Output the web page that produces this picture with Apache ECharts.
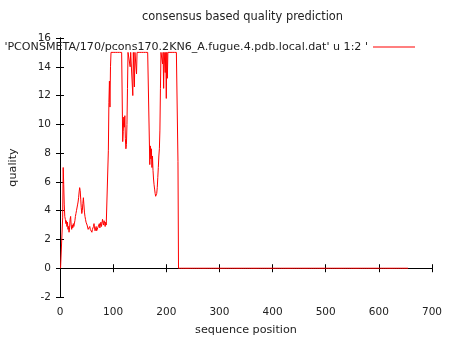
<!DOCTYPE html>
<html><head><meta charset="utf-8">
<script src="https://cdn.jsdelivr.net/npm/echarts@6/dist/echarts.min.js"></script>
<style>html,body{margin:0;padding:0;background:#fff}#c{width:455px;height:342px}</style>
</head><body><div id="c"></div><script>
const chartTitle = 'consensus based quality prediction';
const seriesName = "'PCONSMETA/170/pcons170.2KN6_A.fugue.4.pdb.local.dat' u 1:2 '";
const xName = 'sequence position';
const yName = 'quality';
const xTicks = [0, 100, 200, 300, 400, 500, 600, 700];
const yTicks = [-2, 0, 2, 4, 6, 8, 10, 12, 14, 16];
const firstPosition = 1;
// quality per sequence position (position = firstPosition + index)
const quality = [
  0,0,0,0,3.5,7.0,5.8,4.4,3.6,3.4,
  3.1,3.3,2.9,3.2,2.7,2.9,2.5,2.8,3.4,3.6,
  3.0,2.7,3.0,2.8,3.1,2.9,3.0,3.3,3.6,3.8,
  4.0,4.1,4.4,4.6,4.9,5.3,5.6,5.4,4.8,4.2,
  3.8,4.0,4.5,4.9,4.4,3.9,3.6,3.4,3.2,3.3,
  3.0,2.9,2.7,2.8,2.6,2.9,2.7,2.6,2.8,2.5,
  2.7,2.6,2.9,3.1,2.8,2.6,2.7,2.9,2.6,2.5,
  2.8,2.7,2.9,3.1,2.8,3.0,3.2,2.9,3.1,3.4,
  3.2,3.0,3.3,3.1,2.9,3.2,3.0,3.1,2.9,3.1,
  8.2,11.5,13.0,11.2,14.0,15,15,15,15,15,
  15,15,15,15,15,15,15,15,15,15,
  15,15,15,15,15,15,15,8.8,9.5,10.5,
  9.8,10.6,9.0,8.3,8.6,10.0,12.5,15,15,15,
  15,14.0,15,15,15,15,12.0,15,15,12.6,
  15,15,15,13.5,15,15,15,15,15,15,
  15,15,15,15,15,15,15,15,15,15,
  15,15,15,15,15,15,15,15,7.2,8.5,
  7.6,8.3,7.0,7.8,6.8,6.2,5.8,5.5,5.2,5.0,
  4.9,5.2,5.6,6.3,7.0,7.8,8.3,9.6,12.5,15,
  15,15,14.2,15,12.5,15,15,13.6,15,11.8,
  15,13.2,15,15,15,15,15,15,15,15,
  15,15,15,15,15,15,15,15,15,15,
  15,7.4,0,0,0,0,0,0,0,0,
  0,0,0,0,0,0,0,0,0,0,0,0,0,0,0,0,0,0,0,0,0,0,0,0,0,
  0,0,0,0,0,0,0,0,0,0,0,0,0,0,0,0,0,0,0,0,0,0,0,0,0,
  0,0,0,0,0,0,0,0,0,0,0,0,0,0,0,0,0,0,0,0,0,0,0,0,0,
  0,0,0,0,0,0,0,0,0,0,0,0,0,0,0,0,0,0,0,0,0,0,0,0,0,
  0,0,0,0,0,0,0,0,0,0,0,0,0,0,0,0,0,0,0,0,0,0,0,0,0,
  0,0,0,0,0,0,0,0,0,0,0,0,0,0,0,0,0,0,0,0,0,0,0,0,0,
  0,0,0,0,0,0,0,0,0,0,0,0,0,0,0,0,0,0,0,0,0,0,0,0,0,
  0,0,0,0,0,0,0,0,0,0,0,0,0,0,0,0,0,0,0,0,0,0,0,0,0,
  0,0,0,0,0,0,0,0,0,0,0,0,0,0,0,0,0,0,0,0,0,0,0,0,0,
  0,0,0,0,0,0,0,0,0,0,0,0,0,0,0,0,0,0,0,0,0,0,0,0,0,
  0,0,0,0,0,0,0,0,0,0,0,0,0,0,0,0,0,0,0,0,0,0,0,0,0,
  0,0,0,0,0,0,0,0,0,0,0,0,0,0,0,0,0,0,0,0,0,0,0,0,0,
  0,0,0,0,0,0,0,0,0,0,0,0,0,0,0,0,0,0,0,0,0,0,0,0,0,
  0,0,0,0,0,0,0,0,0,0,0,0,0,0,0,0,0,0,0,0,0,0,0,0,0,
  0,0,0,0,0,0,0,0,0,0,0,0,0,0,0,0,0,0,0,0,0,0,0,0,0,
  0,0,0,0,0,0,0,0,0,0,0,0,0,0,0,0,0,0,0,0,0,0,0,0,0,
  0,0,0,0,0,0,0,0,0,0,0,0,0,0,0,0,0,0,0,0,0,0,0,0,0
];

const FONT = 'DejaVu Sans';
const TXT = '#222';
const RED = '#ff0000';
const seriesData = quality.map((q, i) => [firstPosition + i, q]);
const xMin = xTicks[0], xMax = xTicks[xTicks.length - 1], xStep = xTicks[1] - xTicks[0];
const yMin = yTicks[0], yMax = yTicks[yTicks.length - 1], yStep = yTicks[1] - yTicks[0];
const lineCol = '#000';
function axisBase(extra) {
  return Object.assign({
    type: 'value',
    axisLine: { show: true, lineStyle: { color: lineCol, width: 1 } },
    axisTick: { show: true, inside: true, length: 4, lineStyle: { color: lineCol } },
    splitLine: { show: false },
    axisLabel: { color: TXT, fontFamily: FONT, fontSize: 10.5 }
  }, extra);
}
const chart = echarts.init(document.getElementById('c'), null, { renderer: 'canvas' });
chart.setOption({
  animation: false,
  backgroundColor: '#fff',
  grid: { left: 57, right: 23, top: 38, bottom: 45, containLabel: false },
  graphic: [{
    type: 'text', left: 142, top: 12,
    style: { text: chartTitle, fill: TXT, font: '11.4px "DejaVu Sans"' }
  }],
  legend: {
    right: 40, top: 41.5, padding: 0, align: 'right',
    itemWidth: 42, itemHeight: 1, icon: 'rect',
    itemStyle: { color: RED, borderColor: RED, borderWidth: 0 },
    lineStyle: { color: RED },
    textStyle: { color: TXT, fontFamily: FONT, fontSize: 11.1 },
    data: [{ name: seriesName, icon: 'rect', itemStyle: { color: RED, borderColor: RED, borderWidth: 0 } }]
  },
  xAxis: [
    axisBase({ position: 'bottom', min: xMin, max: xMax, interval: xStep, name: xName,
      nameLocation: 'middle', nameGap: 28, nameTextStyle: { color: TXT, fontFamily: FONT, fontSize: 11.2 },
      axisLabel: { color: TXT, fontFamily: FONT, fontSize: 10.5, margin: 10 } }),
    axisBase({ position: 'top', min: xMin, max: xMax, interval: xStep, axisLabel: { show: false } })
  ],
  yAxis: [
    axisBase({ position: 'left', min: yMin, max: yMax, interval: yStep, name: yName,
      nameLocation: 'middle', nameGap: 41, nameTextStyle: { color: TXT, fontFamily: FONT, fontSize: 11.2 },
      axisLabel: { color: TXT, fontFamily: FONT, fontSize: 10.5, margin: 9 } }),
    axisBase({ position: 'right', min: yMin, max: yMax, interval: yStep, axisLabel: { show: false } })
  ],
  series: [{
    name: seriesName, type: 'line', xAxisIndex: 0, yAxisIndex: 0,
    data: seriesData, showSymbol: false, symbol: 'none', sampling: null,
    color: RED, lineStyle: { color: RED, width: 1 },
    itemStyle: { color: RED }
  }]
});
</script></body></html>
